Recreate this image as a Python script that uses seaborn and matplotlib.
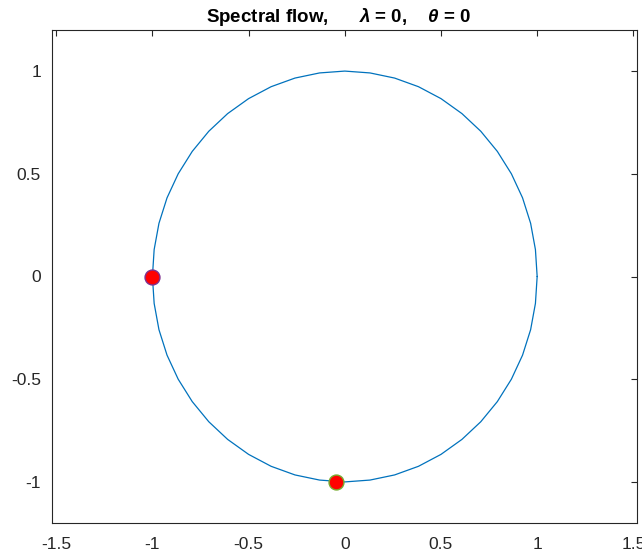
import matplotlib
matplotlib.use("Agg")
import matplotlib.pyplot as plt
import seaborn as sns
import pandas as pd

# Spectral curve (unit circle traced as a polyline)
curve_x = [1.000, 0.991, 0.966, 0.924, 0.866, 0.793, 0.707, 0.609, 0.500, 0.383, 0.259, 0.131, 0.000,
           -0.131, -0.259, -0.383, -0.500, -0.609, -0.707, -0.793, -0.866, -0.924, -0.966, -0.991, -1.000,
           -0.991, -0.966, -0.924, -0.866, -0.793, -0.707, -0.609, -0.500, -0.383, -0.259, -0.131, 0.000,
           0.131, 0.259, 0.383, 0.500, 0.609, 0.707, 0.793, 0.866, 0.924, 0.966, 0.991, 1.000]
curve_y = [0.000, 0.131, 0.259, 0.383, 0.500, 0.609, 0.707, 0.793, 0.866, 0.924, 0.966, 0.991, 1.000,
           0.991, 0.966, 0.924, 0.866, 0.793, 0.707, 0.609, 0.500, 0.383, 0.259, 0.131, 0.000,
           -0.131, -0.259, -0.383, -0.500, -0.609, -0.707, -0.793, -0.866, -0.924, -0.966, -0.991, -1.000,
           -0.991, -0.966, -0.924, -0.866, -0.793, -0.707, -0.609, -0.500, -0.383, -0.259, -0.131, 0.000]

# Eigenvalue markers
point_x = [-1.0, -0.045]
point_y = [0.0, -1.0]
point_edges = ["#7E2F8E", "#77AC30"]

x_ticks = [-1.5, -1, -0.5, 0, 0.5, 1, 1.5]
x_tick_labels = ["-1.5", "-1", "-0.5", "0", "0.5", "1", "1.5"]
y_ticks = [-1, -0.5, 0, 0.5, 1]
y_tick_labels = ["-1", "-0.5", "0", "0.5", "1"]

sns.set_style("white")
plt.rcParams["font.family"] = ["Liberation Sans", "DejaVu Sans"]
plt.rcParams["mathtext.fontset"] = "custom"
plt.rcParams["mathtext.rm"] = "Liberation Sans:bold"
plt.rcParams["mathtext.it"] = "Liberation Sans:italic:bold"
plt.rcParams["mathtext.bf"] = "Liberation Sans:bold"

fig = plt.figure(figsize=(6.42, 5.54), dpi=100)
ax = fig.add_axes([52 / 642, 31 / 554, 585 / 642, 493 / 554])

df = pd.DataFrame({"x": curve_x, "y": curve_y})
sns.lineplot(data=df, x="x", y="y", sort=False, estimator=None, ax=ax,
             color="#0072BD", linewidth=0.9)

for px, py, ec in zip(point_x, point_y, point_edges):
    sns.scatterplot(x=[px], y=[py], ax=ax, s=115, color="#FF0000",
                    edgecolor=ec, linewidth=1.0, zorder=5)

ax.set_xlim(-1.522, 1.519)
ax.set_ylim(-1.2, 1.2)
ax.set_xticks(x_ticks)
ax.set_xticklabels(x_tick_labels)
ax.set_yticks(y_ticks)
ax.set_yticklabels(y_tick_labels)
ax.set_xlabel("")
ax.set_ylabel("")
ax.tick_params(direction="in", length=4, width=0.8, top=True, right=True,
               labelsize=12.5, colors="#262626")
ax.tick_params(axis="x", pad=10)
ax.tick_params(axis="y", pad=8)
for side in ["left", "bottom", "top", "right"]:
    ax.spines[side].set_color("#262626")
    ax.spines[side].set_linewidth(0.8)
    ax.spines[side].set_visible(True)

ax.set_title(r"Spectral flow,      $\lambda$ = 0,    $\theta$ = 0", fontsize=13.5,
             fontweight="bold", pad=6, color="black", x=0.49)

fig.savefig("out.png", dpi=100)
